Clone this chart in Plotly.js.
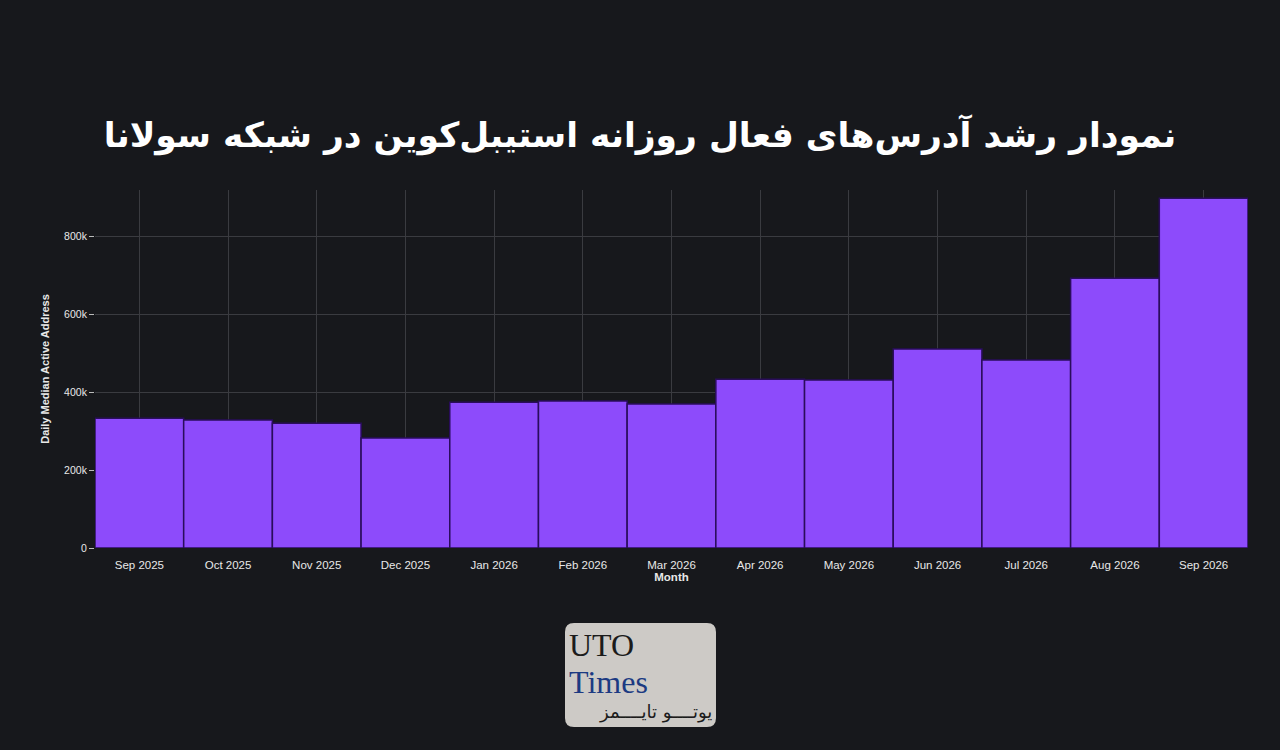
<!DOCTYPE html>
<html>
<head>
<meta charset="utf-8">
<script src="https://cdn.plot.ly/plotly-3.0.1.min.js"></script>
<style>
html,body{margin:0;padding:0;background:#17181c;}
#chart{width:1280px;height:750px;}
</style>
</head>
<body>
<div id="chart"></div>
<script>
const months = ["Sep 2025","Oct 2025","Nov 2025","Dec 2025","Jan 2026","Feb 2026","Mar 2026","Apr 2026","May 2026","Jun 2026","Jul 2026","Aug 2026","Sep 2026"];
const activeAddresses = [333000, 328000, 320000, 282000, 374000, 377000, 369000, 433000, 431000, 510000, 482000, 692000, 897000];
const yTickVals = [0, 200000, 400000, 600000, 800000];
const yTickText = ["0", "200k", "400k", "600k", "800k"];
const titleText = "نمودار رشد آدرس‌های فعال روزانه استیبل‌کوین در شبکه سولانا";

const trace = {
  type: "bar",
  x: months,
  y: activeAddresses,
  marker: {color: "#8d4bfb", line: {color: "#2a0d5c", width: 1.5}},
  hoverinfo: "x+y"
};

// logo box (pixel -> paper conversion)
const PL = 95, PW = 1153, PT = 190, PH = 358;
const px = v => (v - PL) / PW;
const py = v => (PT + PH - v) / PH;
const bx0 = 565, bx1 = 716, by0 = 623, by1 = 727, r = 9;
const logoPath = [
  "M", px(bx0 + r), py(by0),
  "L", px(bx1 - r), py(by0),
  "Q", px(bx1), py(by0), px(bx1), py(by0 + r),
  "L", px(bx1), py(by1 - r),
  "Q", px(bx1), py(by1), px(bx1 - r), py(by1),
  "L", px(bx0 + r), py(by1),
  "Q", px(bx0), py(by1), px(bx0), py(by1 - r),
  "L", px(bx0), py(by0 + r),
  "Q", px(bx0), py(by0), px(bx0 + r), py(by0), "Z"
].map(v => typeof v === "number" ? v.toFixed(5) : v).join(" ").replace(/ ([\d.-]+) ([\d.-]+)/g, " $1,$2");

const layout = {
  width: 1280, height: 750,
  paper_bgcolor: "#17181c",
  plot_bgcolor: "#17181c",
  margin: {l: PL, r: 32, t: PT, b: 202},
  bargap: 0,
  showlegend: false,
  title: {
    text: "<b>" + titleText + "</b>",
    x: 0.5, xanchor: "center",
    y: 0.82, yanchor: "middle",
    font: {family: "DejaVu Sans, Noto Sans", size: 34.5, color: "#ffffff"}
  },
  xaxis: {
    type: "category",
    showgrid: true, gridcolor: "#3a3b40", gridwidth: 1,
    tickfont: {family: "Liberation Sans, Arial", size: 11.5, color: "#e8e8e8"},
    ticklabelstandoff: 8,
    title: {text: "<b>Month</b>", font: {family: "Liberation Sans, Arial", size: 11.5, color: "#e8e8e8"}, standoff: 3},
    ticks: "", zeroline: false, showline: false
  },
  yaxis: {
    range: [0, 918000],
    tickvals: yTickVals, ticktext: yTickText,
    showgrid: true, gridcolor: "#3a3b40", gridwidth: 1,
    ticks: "outside", ticklen: 5, tickcolor: "#bbbbbb",
    tickfont: {family: "Liberation Sans, Arial", size: 10.5, color: "#e8e8e8"},
    title: {text: "<b>Daily Median Active Address</b>", font: {family: "Liberation Sans, Arial", size: 11, color: "#e8e8e8"}, standoff: 12},
    zeroline: false, showline: false
  },
  shapes: [
    {type: "path", xref: "paper", yref: "paper", path: logoPath,
     fillcolor: "#cdcac6", line: {width: 0}, layer: "above"}
  ],
  annotations: [
    {text: "UTO", xref: "paper", yref: "paper", x: px(568), y: py(645),
     xanchor: "left", yanchor: "middle", showarrow: false, borderpad: 0,
     font: {family: "Liberation Serif, Times New Roman", size: 32, color: "#1b1b1b"}},
    {text: "Times", xref: "paper", yref: "paper", x: px(568), y: py(682),
     xanchor: "left", yanchor: "middle", showarrow: false, borderpad: 0,
     font: {family: "Liberation Serif, Times New Roman", size: 32, color: "#1c3a82"}},
    {text: "یوتــــو تایــــمز", xref: "paper", yref: "paper", x: px(713), y: py(712),
     xanchor: "right", yanchor: "middle", showarrow: false, borderpad: 0,
     font: {family: "DejaVu Sans", size: 18, color: "#1b1b1b"}}
  ]
};

Plotly.newPlot("chart", [trace], layout, {displayModeBar: false, staticPlot: true});
</script>
</body>
</html>
